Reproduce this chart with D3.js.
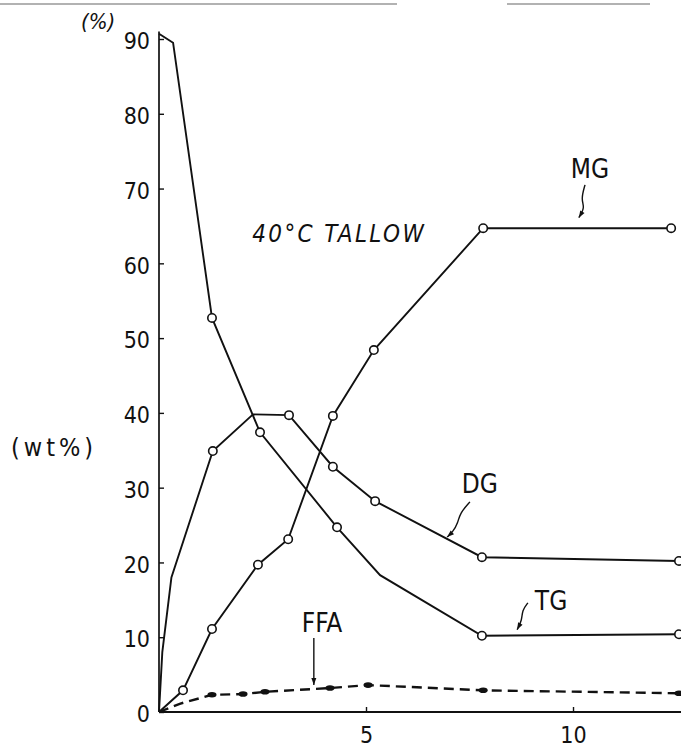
<!DOCTYPE html>
<html>
<head>
<meta charset="utf-8">
<script src="https://cdn.jsdelivr.net/npm/d3@7/dist/d3.min.js"></script>
<style>
  body { margin: 0; background: #fff; }
  svg { display: block; }
  text { font-family: "DejaVu Sans Condensed", "Liberation Sans Narrow", "DejaVu Sans", sans-serif; fill: #111; }
</style>
</head>
<body>
<div id="chart"></div>
<script>
let width = 681, height = 755;

// measured points (open circles / filled dots), x = time, y = wt%
const tgPoints  = [[1.28, 52.7], [2.44, 37.4], [4.30, 24.7], [7.80, 10.2], [12.56, 10.4]];
const tgBends   = [[0, 90.7], [0.34, 89.5], [5.34, 18.3]];
const dgPoints  = [[1.30, 34.9], [3.14, 39.7], [4.20, 32.8], [5.22, 28.2], [7.80, 20.7], [12.56, 20.2]];
const dgBends   = [[0, 0], [0.08, 8], [0.3, 18], [2.27, 39.8]];
const mgPoints  = [[0.58, 2.9], [1.28, 11.1], [2.39, 19.7], [3.12, 23.1], [4.20, 39.6], [5.19, 48.4], [7.83, 64.7], [12.37, 64.7]];
const mgBends   = [[0, 0]];
const ffaPoints = [[1.28, 2.3], [2.03, 2.4], [2.56, 2.7], [4.13, 3.2], [5.05, 3.6], [7.83, 2.9], [12.56, 2.5]];
const ffaBends  = [[0, 0], [0.5, 1.1]];

const yTicks = [0, 10, 20, 30, 40, 50, 60, 70, 80, 90];
const xTicks = [5, 10];

// labels and leader lines, in data units
const labels = [
  { text: 'MG', x: 10.41, y: 71.4, size: 26 },
  { text: 'DG', x: 7.75, y: 29.3, size: 26 },
  { text: 'TG', x: 9.47, y: 13.6, size: 26 },
  { text: 'FFA', x: 3.94, y: 10.7, size: 26 }
];
const leaders = [
  [[10.29, 70.5], [10.19, 68.5], [10.29, 67.5], [10.14, 66.1]],
  [[7.51, 28.1], [7.27, 26.6], [7.22, 25.3], [7.10, 24.1], [6.96, 23.4]],
  [[8.91, 14.6], [8.77, 13.6], [8.77, 12.3], [8.65, 11.0]],
  [[3.74, 9.9], [3.74, 3.6]]
];

const x = d3.scaleLinear().domain([0, 12.56]).range([159, 679]);
const y = d3.scaleLinear().domain([0, 90]).range([712, 39]);

const svg = d3.select('#chart').append('svg')
  .attr('width', width)
  .attr('height', height);

// scan edge lines at the top
svg.append('line').attr('x1', 0).attr('x2', 397).attr('y1', 4).attr('y2', 4)
  .attr('stroke', '#999').attr('stroke-width', 1.5);
svg.append('line').attr('x1', 507).attr('x2', 650).attr('y1', 4).attr('y2', 4)
  .attr('stroke', '#999').attr('stroke-width', 1.5);

// Axes
svg.append('line')
  .attr('x1', x(0)).attr('x2', x(0))
  .attr('y1', y(0)).attr('y2', y(91))
  .attr('stroke', '#111').attr('stroke-width', 1.7);
svg.append('line')
  .attr('x1', x(0)).attr('x2', width)
  .attr('y1', y(0)).attr('y2', y(0))
  .attr('stroke', '#111').attr('stroke-width', 2);

const yAxis = svg.append('g')
  .attr('transform', `translate(${x(0)},0)`)
  .call(d3.axisLeft(y).tickValues(yTicks).tickSize(-5).tickPadding(9));
const xAxis = svg.append('g')
  .attr('transform', `translate(0,${y(0)})`)
  .call(d3.axisBottom(x).tickValues(xTicks).tickSize(-5).tickPadding(15));

[yAxis, xAxis].forEach(g => {
  g.select('.domain').remove();
  g.selectAll('line').attr('stroke', '#111').attr('stroke-width', 1.4);
  g.selectAll('text')
    .style('font-size', '23px')
    .style('font-family', '"DejaVu Sans Condensed", "Liberation Sans Narrow", "DejaVu Sans", sans-serif')
    .attr('fill', '#111');
});
yAxis.selectAll('text').attr('dy', '0.42em');

// Render series lines
const line = d3.line().x(d => x(d[0])).y(d => y(d[1]));
const merge = (pts, bends) => pts.concat(bends).sort((a, b) => a[0] - b[0]);

const series = [
  { pts: tgPoints, bends: tgBends, dash: null },
  { pts: dgPoints, bends: dgBends, dash: null },
  { pts: mgPoints, bends: mgBends, dash: null },
  { pts: ffaPoints, bends: ffaBends, dash: '10,6' }
];

svg.selectAll('path.series')
  .data(series)
  .join('path')
    .attr('class', 'series')
    .attr('fill', 'none')
    .attr('stroke', '#111')
    .attr('stroke-width', d => d.dash ? 2.4 : 1.9)
    .attr('stroke-dasharray', d => d.dash)
    .attr('d', d => line(merge(d.pts, d.bends)));

// open circles
svg.selectAll('circle.open')
  .data(tgPoints.concat(dgPoints, mgPoints))
  .join('circle')
    .attr('class', 'open')
    .attr('cx', d => x(d[0]))
    .attr('cy', d => y(d[1]))
    .attr('r', 4.2)
    .attr('fill', '#fff')
    .attr('stroke', '#111')
    .attr('stroke-width', 1.6);

// filled dots for FFA
svg.selectAll('ellipse.ffa')
  .data(ffaPoints)
  .join('ellipse')
    .attr('class', 'ffa')
    .attr('cx', d => x(d[0]))
    .attr('cy', d => y(d[1]))
    .attr('rx', 4.5)
    .attr('ry', 2.8)
    .attr('fill', '#111');

// Labels
svg.selectAll('text.lbl')
  .data(labels)
  .join('text')
    .attr('class', 'lbl')
    .attr('x', d => x(d.x))
    .attr('y', d => y(d.y))
    .attr('text-anchor', 'middle')
    .style('font-size', d => d.size + 'px')
    .text(d => d.text);

const squiggle = d3.line().x(d => x(d[0])).y(d => y(d[1])).curve(d3.curveBasis);
svg.selectAll('path.leader')
  .data(leaders)
  .join('path')
    .attr('class', 'leader')
    .attr('fill', 'none')
    .attr('stroke', '#111')
    .attr('stroke-width', 1.4)
    .attr('d', d => d.length > 2 ? squiggle(d) : line(d));

// arrow heads at the end of each leader
svg.selectAll('path.head')
  .data(leaders)
  .join('path')
    .attr('class', 'head')
    .attr('fill', '#111')
    .attr('d', d => {
      const p = d[d.length - 1], q = d[d.length - 2];
      const px = x(p[0]), py = y(p[1]);
      const a = Math.atan2(py - y(q[1]), px - x(q[0]));
      const l = 7, w = 2.5;
      const bx = px - l * Math.cos(a), by = py - l * Math.sin(a);
      return `M${px},${py}L${bx + w * Math.sin(a)},${by - w * Math.cos(a)}L${bx - w * Math.sin(a)},${by + w * Math.cos(a)}Z`;
    });

// Titles
svg.append('text')
  .attr('x', x(2.25))
  .attr('y', y(62.9))
  .style('font-size', '24px')
  .style('font-style', 'italic')
  .style('letter-spacing', '2.4px')
  .text('40°C TALLOW');

svg.append('text')
  .attr('x', 11)
  .attr('y', 456)
  .style('font-size', '25px')
  .style('letter-spacing', '4px')
  .text('(wt%)');

svg.append('text')
  .attr('x', 81)
  .attr('y', 29)
  .style('font-size', '22px')
  .style('font-style', 'italic')
  .text('(%)');
</script>
</body>
</html>
